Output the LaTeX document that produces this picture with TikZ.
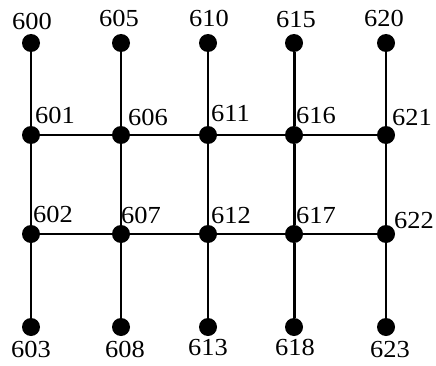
\documentclass[tikz,border=0pt]{standalone}
\usepackage{fontspec}
\newfontfamily\labfont[FakeStretch=1.08]{Liberation Serif}
\begin{document}
\begin{tikzpicture}[x=1pt,y=1pt,
  dot/.style={circle,fill=black,draw=none,minimum size=18pt,inner sep=0pt},
  lab/.style={inner sep=0pt,font=\labfont\fontsize{24.5}{24.5}\selectfont},
  edge/.style={line width=2pt},
  thickedge/.style={line width=3pt},
  thinedge/.style={line width=1.4pt}]
\useasboundingbox (0,0) rectangle (436,365);
% dots (y = 365 - pixel y)
\foreach \c/\x in {0/31,1/121,2/208,3/294,4/386}{
  \pgfmathtruncatemacro{\a}{600+5*\c}
  \pgfmathtruncatemacro{\b}{601+5*\c}
  \pgfmathtruncatemacro{\d}{602+5*\c}
  \pgfmathtruncatemacro{\e}{603+5*\c}
  \node[dot] (n\a) at (\x,322) {};
  \node[dot] (n\b) at (\x,230) {};
  \node[dot] (n\d) at (\x,131) {};
  \node[dot] (n\e) at (\x,38) {};
}
% vertical connectors
\draw[edge] (n600) -- (n601) -- (n602) -- (n603);
\draw[edge] (n605) -- (n606) -- (n607) -- (n608);
\draw[edge] (n610) -- (n611) -- (n612) -- (n613);
\draw[thickedge] (n615) -- (n616) -- (n617) -- (n618);
\draw[thinedge] (n620) -- (n621) -- (n622) -- (n623);
% horizontal connectors
\draw[edge] (n601) -- (n606) -- (n611) -- (n616) -- (n621);
\draw[edge] (n602) -- (n607) -- (n612) -- (n617) -- (n622);
% top labels
\node[lab,anchor=base] (l600) at (32,335) {600};
\node[lab,anchor=base] (l605) at (119,338) {605};
\node[lab,anchor=base] (l610) at (209,338) {610};
\node[lab,anchor=base] (l615) at (296,337) {615};
\node[lab,anchor=base] (l620) at (384,338) {620};
% row 1 labels
\node[lab,anchor=base west] (l601) at (35,242) {601};
\node[lab,anchor=base west] (l606) at (128,240) {606};
\node[lab,anchor=base west] (l611) at (211,244) {611};
\node[lab,anchor=base west] (l616) at (296,242) {616};
\node[lab,anchor=base west] (l621) at (392,240) {621};
% row 2 labels
\node[lab,anchor=base west] (l602) at (33,143) {602};
\node[lab,anchor=base west] (l607) at (121,142) {607};
\node[lab,anchor=base west] (l612) at (211,142) {612};
\node[lab,anchor=base west] (l617) at (296,142) {617};
\node[lab,anchor=base west] (l622) at (394,137) {622};
% bottom labels
\node[lab,anchor=base] (l603) at (31,8) {603};
\node[lab,anchor=base] (l608) at (125,8) {608};
\node[lab,anchor=base] (l613) at (208,10) {613};
\node[lab,anchor=base] (l618) at (295,10) {618};
\node[lab,anchor=base] (l623) at (390,8) {623};
\end{tikzpicture}
\end{document}
